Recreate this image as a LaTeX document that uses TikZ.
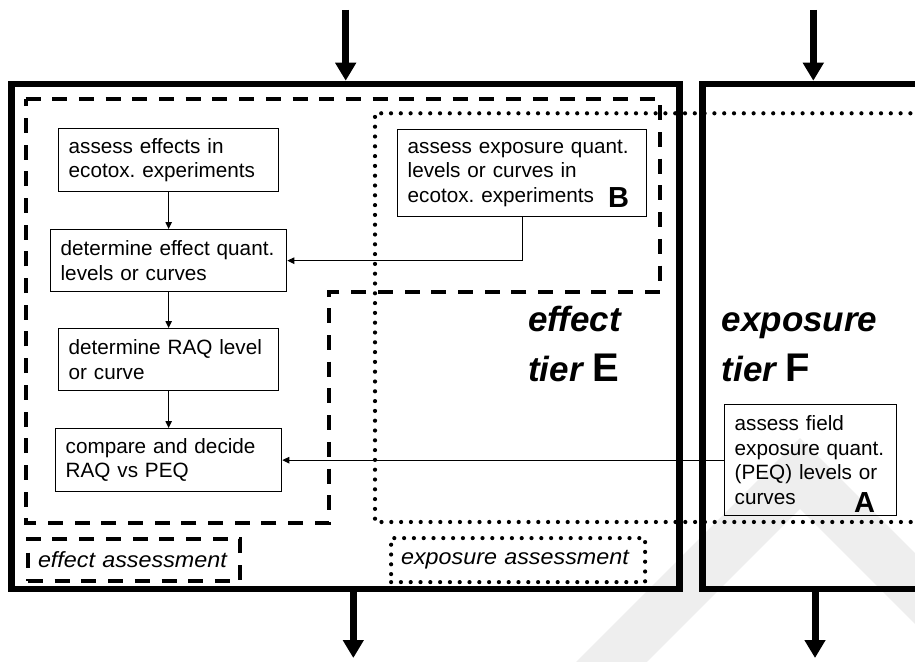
\documentclass[tikz,border=0pt]{standalone}
\usepackage{fontspec}
\setmainfont{Liberation Sans}
\newfontfamily\labelfont[FakeStretch=1.06]{Liberation Sans}
\usetikzlibrary{arrows.meta,calc}
\frenchspacing

\begin{document}
\begin{tikzpicture}[x=1pt,y=-1pt,
  frame/.style={line width=6.5pt},
  flow/.style={line width=7pt,-{Triangle[width=20pt,length=18pt]}},
  stepbox/.style={draw,line width=1.3pt,align=left,inner xsep=10pt,inner ysep=0pt,
    anchor=north west,font=\fontsize{20.7}{24.5}\selectfont},
  link/.style={line width=1pt,-{Triangle[width=6.5pt,length=7pt]}},
  dashline/.style={line width=4pt,dash pattern=on 15pt off 11.7pt},
  dotline/.style={line width=4.2pt,line cap=round,dash pattern=on 0pt off 9.8pt},
  tag/.style={font=\fontsize{29}{29}\selectfont\bfseries,anchor=base,inner sep=0pt},
  tier/.style={font=\fontsize{35}{35}\selectfont\bfseries\itshape,anchor=base west,inner sep=0pt},
  areatag/.style={align=left,anchor=north west,inner xsep=10pt,inner ysep=0pt,
    font=\labelfont\itshape\fontsize{22}{22}\selectfont},
]
\useasboundingbox (0,0) rectangle (915,661);
\fill[white] (0,0) rectangle (915,661);
\clip (0,0) rectangle (915,661);

% background stamp
\draw[line width=50pt,color=gray!13,line join=miter] (573.5,700) -- (800,473.4) -- (1100,773.4);

% assessment regions
\draw[dashline] (25.5,99) -- (660,99) -- (660,292) -- (329,292) -- (329,522.7) -- (25.5,522.7) -- cycle;
\draw[dotline] (930,113.3) -- (375,113.3) -- (375,522) -- (930,522);

% tier frames
\draw[frame] (11.5,84) rectangle (679.7,589);
\draw[frame] (930,84) -- (702.7,84) -- (702.7,589) -- (930,589);

% process steps
\node[stepbox,text width=200pt,minimum height=63pt] (b1) at (58,128) {assess effects in\\ecotox. experiments};
\node[stepbox,text width=216pt,minimum height=62pt] (b2) at (50,229) {determine effect quant.\\levels or curves};
\node[stepbox,text width=200pt,minimum height=62pt] (b3) at (58,328) {determine RAQ level\\or curve};
\node[stepbox,text width=206pt,minimum height=63pt] (b4) at (55,428) {compare and decide\\RAQ vs PEQ};
\node[stepbox,text width=229pt,minimum height=87pt] (bB) at (397,129) {assess exposure quant.\\levels or curves in\\ecotox. experiments};
\node[stepbox,text width=152pt,minimum height=111pt] (bA) at (724,404) {assess field\\exposure quant.\\(PEQ) levels or\\curves};

\node[tag] (tagB) at (618.5,207.5) {B};
\node[tag] (tagA) at (864.5,512) {A};

% tier titles
\node[tier] (effA) at (528,331.7) {effect};
\node[tier] (effB) at (528,381.7) {tier {\upshape\fontsize{40}{40}\selectfont E}};
\node[tier] (expA) at (721.5,331.7) {exposure};
\node[tier] (expB) at (721.5,381.7) {tier {\upshape\fontsize{40}{40}\selectfont F}};

% region labels
\node[areatag,draw,dashline,text width=192pt,minimum height=42.6pt] (effLab) at (26,536.7) {effect assessment};
\node[areatag,draw,dotline,text width=234pt,minimum height=44pt] (expLab) at (389,536) {exposure assessment};

% links between steps
\draw[link] (b1.south) -- (b2.north);
\draw[link] (b2.south) -- (b3.north);
\draw[link] (b3.south) -- (b4.north);
\draw[link] (bB.south) |- (b2.east);
\draw[link] (bA.west) -- (b4.east);

% flows into and out of the tiers
\coordinate (inE) at (345.7,10);
\coordinate (topE) at (345.7,80.75);
\coordinate (inF) at (813.3,10);
\coordinate (topF) at (813.3,80.75);
\coordinate (botE) at (353.3,589);
\coordinate (outE) at (353.3,658);
\coordinate (botF) at (815,589);
\coordinate (outF) at (815,658);
\draw[flow] (inE) -- (topE);
\draw[flow] (inF) -- (topF);
\draw[flow] (botE) -- (outE);
\draw[flow] (botF) -- (outF);
\end{tikzpicture}
\end{document}
